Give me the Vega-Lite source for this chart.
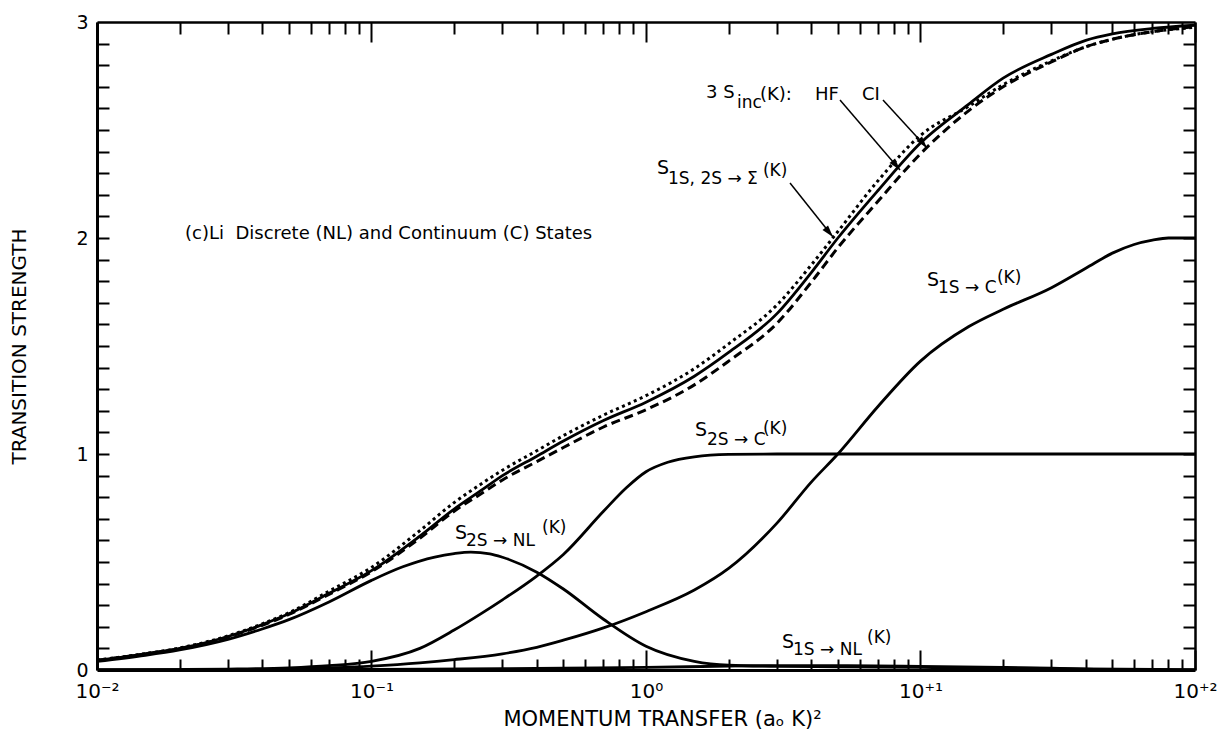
{
  "$schema": "https://vega.github.io/schema/vega-lite/v6.json",
  "width": 1098,
  "height": 648,
  "autosize": {"type": "none"},
  "padding": {"left": 97, "top": 22, "right": 36, "bottom": 82},
  "background": "white",
  "config": {
    "view": {"stroke": null},
    "font": "DejaVu Sans",
    "axis": {"grid": false, "domainColor": "black", "tickColor": "black", "labelColor": "black", "titleColor": "black", "labelFont": "DejaVu Sans", "titleFont": "DejaVu Sans", "titleFontWeight": "normal", "tickWidth": 2}
  },
  "resolve": {"axis": {"x": "independent", "y": "independent"}},
  "datasets": {
    "curves": [
      {"curve": "HF", "x": 0.01, "y": 0.045}, {"curve": "HF", "x": 0.015, "y": 0.075}, {"curve": "HF", "x": 0.02, "y": 0.1}, {"curve": "HF", "x": 0.03, "y": 0.155}, {"curve": "HF", "x": 0.04, "y": 0.21}, {"curve": "HF", "x": 0.05, "y": 0.26}, {"curve": "HF", "x": 0.07, "y": 0.355}, {"curve": "HF", "x": 0.1, "y": 0.46}, {"curve": "HF", "x": 0.15, "y": 0.62}, {"curve": "HF", "x": 0.2, "y": 0.745}, {"curve": "HF", "x": 0.25, "y": 0.83}, {"curve": "HF", "x": 0.3, "y": 0.9}, {"curve": "HF", "x": 0.4, "y": 0.99}, {"curve": "HF", "x": 0.5, "y": 1.06}, {"curve": "HF", "x": 0.7, "y": 1.155}, {"curve": "HF", "x": 1, "y": 1.24}, {"curve": "HF", "x": 1.5, "y": 1.36}, {"curve": "HF", "x": 2, "y": 1.47}, {"curve": "HF", "x": 3, "y": 1.65}, {"curve": "HF", "x": 4, "y": 1.84}, {"curve": "HF", "x": 5, "y": 2.0}, {"curve": "HF", "x": 7, "y": 2.22}, {"curve": "HF", "x": 10, "y": 2.44}, {"curve": "HF", "x": 15, "y": 2.62}, {"curve": "HF", "x": 20, "y": 2.74}, {"curve": "HF", "x": 30, "y": 2.85}, {"curve": "HF", "x": 40, "y": 2.915}, {"curve": "HF", "x": 50, "y": 2.945}, {"curve": "HF", "x": 70, "y": 2.97}, {"curve": "HF", "x": 100, "y": 2.985},

      {"curve": "CI", "x": 0.01, "y": 0.045}, {"curve": "CI", "x": 0.015, "y": 0.074}, {"curve": "CI", "x": 0.02, "y": 0.099}, {"curve": "CI", "x": 0.03, "y": 0.153}, {"curve": "CI", "x": 0.04, "y": 0.207}, {"curve": "CI", "x": 0.05, "y": 0.257}, {"curve": "CI", "x": 0.07, "y": 0.35}, {"curve": "CI", "x": 0.1, "y": 0.455}, {"curve": "CI", "x": 0.15, "y": 0.61}, {"curve": "CI", "x": 0.2, "y": 0.735}, {"curve": "CI", "x": 0.25, "y": 0.815}, {"curve": "CI", "x": 0.3, "y": 0.88}, {"curve": "CI", "x": 0.4, "y": 0.965}, {"curve": "CI", "x": 0.5, "y": 1.03}, {"curve": "CI", "x": 0.7, "y": 1.125}, {"curve": "CI", "x": 1, "y": 1.205}, {"curve": "CI", "x": 1.5, "y": 1.32}, {"curve": "CI", "x": 2, "y": 1.43}, {"curve": "CI", "x": 3, "y": 1.605}, {"curve": "CI", "x": 4, "y": 1.795}, {"curve": "CI", "x": 5, "y": 1.955}, {"curve": "CI", "x": 7, "y": 2.17}, {"curve": "CI", "x": 10, "y": 2.39}, {"curve": "CI", "x": 15, "y": 2.59}, {"curve": "CI", "x": 20, "y": 2.7}, {"curve": "CI", "x": 30, "y": 2.815}, {"curve": "CI", "x": 40, "y": 2.885}, {"curve": "CI", "x": 50, "y": 2.92}, {"curve": "CI", "x": 70, "y": 2.955}, {"curve": "CI", "x": 100, "y": 2.978},

      {"curve": "SIGMA", "x": 0.01, "y": 0.046}, {"curve": "SIGMA", "x": 0.015, "y": 0.076}, {"curve": "SIGMA", "x": 0.02, "y": 0.102}, {"curve": "SIGMA", "x": 0.03, "y": 0.158}, {"curve": "SIGMA", "x": 0.04, "y": 0.214}, {"curve": "SIGMA", "x": 0.05, "y": 0.265}, {"curve": "SIGMA", "x": 0.07, "y": 0.365}, {"curve": "SIGMA", "x": 0.1, "y": 0.475}, {"curve": "SIGMA", "x": 0.15, "y": 0.645}, {"curve": "SIGMA", "x": 0.2, "y": 0.775}, {"curve": "SIGMA", "x": 0.25, "y": 0.86}, {"curve": "SIGMA", "x": 0.3, "y": 0.925}, {"curve": "SIGMA", "x": 0.4, "y": 1.015}, {"curve": "SIGMA", "x": 0.5, "y": 1.085}, {"curve": "SIGMA", "x": 0.7, "y": 1.18}, {"curve": "SIGMA", "x": 1, "y": 1.27}, {"curve": "SIGMA", "x": 1.5, "y": 1.395}, {"curve": "SIGMA", "x": 2, "y": 1.51}, {"curve": "SIGMA", "x": 3, "y": 1.69}, {"curve": "SIGMA", "x": 4, "y": 1.875}, {"curve": "SIGMA", "x": 5, "y": 2.03}, {"curve": "SIGMA", "x": 7, "y": 2.265}, {"curve": "SIGMA", "x": 10, "y": 2.475}, {"curve": "SIGMA", "x": 15, "y": 2.61}, {"curve": "SIGMA", "x": 20, "y": 2.71}, {"curve": "SIGMA", "x": 30, "y": 2.82}, {"curve": "SIGMA", "x": 40, "y": 2.885}, {"curve": "SIGMA", "x": 50, "y": 2.92}, {"curve": "SIGMA", "x": 70, "y": 2.955}, {"curve": "SIGMA", "x": 100, "y": 2.975},

      {"curve": "S2S_NL", "x": 0.01, "y": 0.04}, {"curve": "S2S_NL", "x": 0.015, "y": 0.068}, {"curve": "S2S_NL", "x": 0.02, "y": 0.093}, {"curve": "S2S_NL", "x": 0.03, "y": 0.142}, {"curve": "S2S_NL", "x": 0.04, "y": 0.19}, {"curve": "S2S_NL", "x": 0.05, "y": 0.233}, {"curve": "S2S_NL", "x": 0.07, "y": 0.315}, {"curve": "S2S_NL", "x": 0.1, "y": 0.415}, {"curve": "S2S_NL", "x": 0.13, "y": 0.478}, {"curve": "S2S_NL", "x": 0.17, "y": 0.523}, {"curve": "S2S_NL", "x": 0.2, "y": 0.539}, {"curve": "S2S_NL", "x": 0.23, "y": 0.546}, {"curve": "S2S_NL", "x": 0.27, "y": 0.538}, {"curve": "S2S_NL", "x": 0.3, "y": 0.522}, {"curve": "S2S_NL", "x": 0.4, "y": 0.453}, {"curve": "S2S_NL", "x": 0.5, "y": 0.375}, {"curve": "S2S_NL", "x": 0.7, "y": 0.235}, {"curve": "S2S_NL", "x": 1, "y": 0.11}, {"curve": "S2S_NL", "x": 1.5, "y": 0.04}, {"curve": "S2S_NL", "x": 2, "y": 0.022}, {"curve": "S2S_NL", "x": 3, "y": 0.017}, {"curve": "S2S_NL", "x": 5, "y": 0.015}, {"curve": "S2S_NL", "x": 10, "y": 0.012}, {"curve": "S2S_NL", "x": 20, "y": 0.009}, {"curve": "S2S_NL", "x": 40, "y": 0.005}, {"curve": "S2S_NL", "x": 100, "y": 0.002},

      {"curve": "S2S_C", "x": 0.01, "y": 0.0}, {"curve": "S2S_C", "x": 0.02, "y": 0.002}, {"curve": "S2S_C", "x": 0.03, "y": 0.004}, {"curve": "S2S_C", "x": 0.05, "y": 0.01}, {"curve": "S2S_C", "x": 0.07, "y": 0.02}, {"curve": "S2S_C", "x": 0.1, "y": 0.04}, {"curve": "S2S_C", "x": 0.15, "y": 0.1}, {"curve": "S2S_C", "x": 0.2, "y": 0.185}, {"curve": "S2S_C", "x": 0.25, "y": 0.26}, {"curve": "S2S_C", "x": 0.3, "y": 0.325}, {"curve": "S2S_C", "x": 0.4, "y": 0.435}, {"curve": "S2S_C", "x": 0.5, "y": 0.535}, {"curve": "S2S_C", "x": 0.7, "y": 0.735}, {"curve": "S2S_C", "x": 0.85, "y": 0.845}, {"curve": "S2S_C", "x": 1, "y": 0.918}, {"curve": "S2S_C", "x": 1.2, "y": 0.962}, {"curve": "S2S_C", "x": 1.5, "y": 0.987}, {"curve": "S2S_C", "x": 2, "y": 0.998}, {"curve": "S2S_C", "x": 3, "y": 1.0}, {"curve": "S2S_C", "x": 10, "y": 1.0}, {"curve": "S2S_C", "x": 100, "y": 1.0},

      {"curve": "S1S_C", "x": 0.01, "y": 0.0}, {"curve": "S1S_C", "x": 0.03, "y": 0.002}, {"curve": "S1S_C", "x": 0.05, "y": 0.005}, {"curve": "S1S_C", "x": 0.1, "y": 0.018}, {"curve": "S1S_C", "x": 0.15, "y": 0.033}, {"curve": "S1S_C", "x": 0.2, "y": 0.048}, {"curve": "S1S_C", "x": 0.3, "y": 0.075}, {"curve": "S1S_C", "x": 0.4, "y": 0.105}, {"curve": "S1S_C", "x": 0.5, "y": 0.138}, {"curve": "S1S_C", "x": 0.7, "y": 0.195}, {"curve": "S1S_C", "x": 1, "y": 0.27}, {"curve": "S1S_C", "x": 1.5, "y": 0.37}, {"curve": "S1S_C", "x": 2, "y": 0.47}, {"curve": "S1S_C", "x": 3, "y": 0.68}, {"curve": "S1S_C", "x": 4, "y": 0.87}, {"curve": "S1S_C", "x": 5, "y": 1.0}, {"curve": "S1S_C", "x": 7, "y": 1.22}, {"curve": "S1S_C", "x": 10, "y": 1.43}, {"curve": "S1S_C", "x": 15, "y": 1.59}, {"curve": "S1S_C", "x": 20, "y": 1.67}, {"curve": "S1S_C", "x": 30, "y": 1.77}, {"curve": "S1S_C", "x": 40, "y": 1.86}, {"curve": "S1S_C", "x": 50, "y": 1.93}, {"curve": "S1S_C", "x": 60, "y": 1.97}, {"curve": "S1S_C", "x": 70, "y": 1.99}, {"curve": "S1S_C", "x": 80, "y": 2.0}, {"curve": "S1S_C", "x": 100, "y": 2.0},

      {"curve": "S1S_NL", "x": 0.01, "y": 0.0}, {"curve": "S1S_NL", "x": 0.1, "y": 0.003}, {"curve": "S1S_NL", "x": 0.3, "y": 0.006}, {"curve": "S1S_NL", "x": 0.5, "y": 0.008}, {"curve": "S1S_NL", "x": 1, "y": 0.012}, {"curve": "S1S_NL", "x": 2, "y": 0.018}, {"curve": "S1S_NL", "x": 3, "y": 0.02}, {"curve": "S1S_NL", "x": 5, "y": 0.02}, {"curve": "S1S_NL", "x": 10, "y": 0.017}, {"curve": "S1S_NL", "x": 20, "y": 0.012}, {"curve": "S1S_NL", "x": 30, "y": 0.008}, {"curve": "S1S_NL", "x": 40, "y": 0.004}, {"curve": "S1S_NL", "x": 50, "y": 0.001}, {"curve": "S1S_NL", "x": 70, "y": 0.0}, {"curve": "S1S_NL", "x": 100, "y": 0.0}
    ],
    "labels": [
      {"text": "(c)Li\u00a0 Discrete (NL) and Continuum (C) States", "part": "note", "x": 0.02092, "y": 2.0185},
      {"text": "3 S", "part": "note", "x": 1.654, "y": 2.671},
      {"text": "inc", "part": "sub", "x": 2.145, "y": 2.625},
      {"text": "(K):", "part": "note", "x": 2.602, "y": 2.662},
      {"text": "HF", "part": "note", "x": 4.128, "y": 2.662},
      {"text": "CI", "part": "note", "x": 6.122, "y": 2.662},
      {"text": "S", "part": "base", "x": 1.097, "y": 2.324},
      {"text": "1S, 2S → Σ", "part": "sub", "x": 1.2025, "y": 2.273},
      {"text": "(K)", "part": "sup", "x": 2.668, "y": 2.31},
      {"text": "S", "part": "base", "x": 0.2015, "y": 0.634},
      {"text": "2S → NL", "part": "sub", "x": 0.221, "y": 0.597},
      {"text": "(K)", "part": "sup", "x": 0.418, "y": 0.657},
      {"text": "S", "part": "base", "x": 1.508, "y": 1.111},
      {"text": "2S → C", "part": "sub", "x": 1.668, "y": 1.065},
      {"text": "(K)", "part": "sup", "x": 2.668, "y": 1.116},
      {"text": "S", "part": "base", "x": 10.56, "y": 1.806},
      {"text": "1S → C", "part": "sub", "x": 11.58, "y": 1.769},
      {"text": "(K)", "part": "sup", "x": 18.99, "y": 1.815},
      {"text": "S", "part": "base", "x": 3.129, "y": 0.1296},
      {"text": "1S → NL", "part": "sub", "x": 3.432, "y": 0.0926},
      {"text": "(K)", "part": "sup", "x": 6.384, "y": 0.148}
    ],
    "arrows": [
      {"target": "SIGMA", "x": 3.347, "y": 2.255, "x2": 4.8, "y2": 2.005},
      {"target": "HF", "x": 5.09, "y": 2.639, "x2": 8.42, "y2": 2.315},
      {"target": "CI", "x": 7.3, "y": 2.639, "x2": 10.56, "y2": 2.417}
    ]
  },
  "layer": [
    {
      "data": {"name": "curves"},
      "transform": [{"filter": {"field": "curve", "oneOf": ["HF", "S2S_NL", "S2S_C", "S1S_C", "S1S_NL"]}}],
      "mark": {"type": "line", "color": "black", "strokeWidth": 2.8, "interpolate": "monotone", "clip": true},
      "encoding": {
        "x": {"field": "x", "type": "quantitative", "scale": {"type": "log", "domain": [0.01, 100], "nice": false},
          "axis": {"orient": "bottom", "values": [0.01, 0.1, 1, 10, 100], "ticks": false, "domain": true, "domainWidth": 3, "labelFontSize": 20, "labelPadding": 11, "labelFlush": false, "labelOverlap": false,
            "labelExpr": "round(log(datum.value)/LN10) == -2 ? '10⁻²' : round(log(datum.value)/LN10) == -1 ? '10⁻¹' : round(log(datum.value)/LN10) == 0 ? '10⁰' : round(log(datum.value)/LN10) == 1 ? '10⁺¹' : '10⁺²'",
            "title": "MOMENTUM TRANSFER (aₒ K)²", "titleFontSize": 21, "titlePadding": 7, "titleX": 565}},
        "y": {"field": "y", "type": "quantitative", "scale": {"domain": [0, 3], "nice": false},
          "axis": {"orient": "left", "values": [0, 1, 2, 3], "ticks": false, "domain": true, "domainWidth": 3, "labelFontSize": 19, "labelPadding": 9, "labelFlush": false, "labelOverlap": false,
            "title": "TRANSITION STRENGTH", "titleFontSize": 20, "titlePadding": 46}},
        "detail": {"field": "curve"}
      }
    },
    {
      "data": {"name": "curves"},
      "transform": [{"filter": {"field": "curve", "equal": "CI"}}],
      "mark": {"type": "line", "color": "black", "strokeWidth": 3, "strokeDash": [9, 5], "interpolate": "monotone"},
      "encoding": {
        "x": {"field": "x", "type": "quantitative", "scale": {"type": "log", "domain": [0.01, 100], "nice": false},
          "axis": {"orient": "bottom", "values": [0.01, 0.1, 1, 10, 100], "ticks": true, "tickSize": -20, "labels": false, "domain": false, "title": null}},
        "y": {"field": "y", "type": "quantitative", "scale": {"domain": [0, 3], "nice": false},
          "axis": {"orient": "left", "values": [0.1, 0.2, 0.3, 0.4, 0.5, 0.6, 0.7, 0.8, 0.9, 1, 1.1, 1.2, 1.3, 1.4, 1.5, 1.6, 1.7, 1.8, 1.9, 2, 2.1, 2.2, 2.3, 2.4, 2.5, 2.6, 2.7, 2.8, 2.9], "ticks": true, "tickSize": -12, "labels": false, "domain": false, "title": null}}
      }
    },
    {
      "data": {"name": "curves"},
      "transform": [{"filter": {"field": "curve", "equal": "SIGMA"}}],
      "mark": {"type": "line", "color": "black", "strokeWidth": 3, "strokeDash": [3, 3.5], "interpolate": "monotone"},
      "encoding": {
        "x": {"field": "x", "type": "quantitative", "scale": {"type": "log", "domain": [0.01, 100], "nice": false},
          "axis": {"orient": "bottom", "values": [0.02, 0.03, 0.04, 0.05, 0.06, 0.07, 0.08, 0.09, 0.2, 0.3, 0.4, 0.5, 0.6, 0.7, 0.8, 0.9, 2, 3, 4, 5, 6, 7, 8, 9, 20, 30, 40, 50, 60, 70, 80, 90], "ticks": true, "tickSize": -11, "labels": false, "domain": false, "title": null}},
        "y": {"field": "y", "type": "quantitative", "scale": {"domain": [0, 3], "nice": false},
          "axis": {"orient": "right", "values": [0.1, 0.2, 0.3, 0.4, 0.5, 0.6, 0.7, 0.8, 0.9, 1, 1.1, 1.2, 1.3, 1.4, 1.5, 1.6, 1.7, 1.8, 1.9, 2, 2.1, 2.2, 2.3, 2.4, 2.5, 2.6, 2.7, 2.8, 2.9], "ticks": true, "tickSize": -12, "labels": false, "domain": true, "domainWidth": 2.5, "title": null}}
      }
    },
    {
      "data": {"name": "labels"},
      "transform": [{"filter": {"field": "part", "equal": "note"}}],
      "mark": {"type": "text", "align": "left", "baseline": "middle", "fontSize": 18, "font": "DejaVu Sans", "color": "black"},
      "encoding": {
        "x": {"field": "x", "type": "quantitative", "scale": {"type": "log", "domain": [0.01, 100], "nice": false},
          "axis": {"orient": "top", "values": [0.01, 0.1, 1, 10, 100], "ticks": true, "tickSize": -20, "labels": false, "domain": true, "domainWidth": 2.5, "title": null}},
        "y": {"field": "y", "type": "quantitative", "scale": {"domain": [0, 3], "nice": false}, "axis": null},
        "text": {"field": "text"}
      }
    },
    {
      "data": {"name": "labels"},
      "transform": [{"filter": {"field": "part", "equal": "base"}}],
      "mark": {"type": "text", "align": "left", "baseline": "middle", "fontSize": 19, "font": "DejaVu Sans", "color": "black"},
      "encoding": {
        "x": {"field": "x", "type": "quantitative", "scale": {"type": "log", "domain": [0.01, 100], "nice": false},
          "axis": {"orient": "top", "values": [0.02, 0.03, 0.04, 0.05, 0.06, 0.07, 0.08, 0.09, 0.2, 0.3, 0.4, 0.5, 0.6, 0.7, 0.8, 0.9, 2, 3, 4, 5, 6, 7, 8, 9, 20, 30, 40, 50, 60, 70, 80, 90], "ticks": true, "tickSize": -12, "labels": false, "domain": false, "title": null}},
        "y": {"field": "y", "type": "quantitative", "scale": {"domain": [0, 3], "nice": false}, "axis": null},
        "text": {"field": "text"}
      }
    },
    {
      "data": {"name": "labels"},
      "transform": [{"filter": {"field": "part", "oneOf": ["sub", "sup"]}}],
      "mark": {"type": "text", "align": "left", "baseline": "middle", "fontSize": 17, "font": "DejaVu Sans", "color": "black"},
      "encoding": {
        "x": {"field": "x", "type": "quantitative", "scale": {"type": "log", "domain": [0.01, 100], "nice": false}, "axis": null},
        "y": {"field": "y", "type": "quantitative", "scale": {"domain": [0, 3], "nice": false}, "axis": null},
        "text": {"field": "text"}
      }
    },
    {
      "data": {"name": "arrows"},
      "mark": {"type": "rule", "color": "black", "strokeWidth": 1.5},
      "encoding": {
        "x": {"field": "x", "type": "quantitative", "scale": {"type": "log", "domain": [0.01, 100], "nice": false}, "axis": null},
        "y": {"field": "y", "type": "quantitative", "scale": {"domain": [0, 3], "nice": false}, "axis": null},
        "x2": {"field": "x2"},
        "y2": {"field": "y2"}
      }
    },
    {
      "data": {"name": "arrows"},
      "mark": {"type": "point", "shape": "M0,0L0.6,2L-0.6,2Z", "filled": true, "color": "black", "opacity": 1, "size": 144, "angle": 140},
      "encoding": {
        "x": {"field": "x2", "type": "quantitative", "scale": {"type": "log", "domain": [0.01, 100], "nice": false}, "axis": null},
        "y": {"field": "y2", "type": "quantitative", "scale": {"domain": [0, 3], "nice": false}, "axis": null}
      }
    }
  ]
}
